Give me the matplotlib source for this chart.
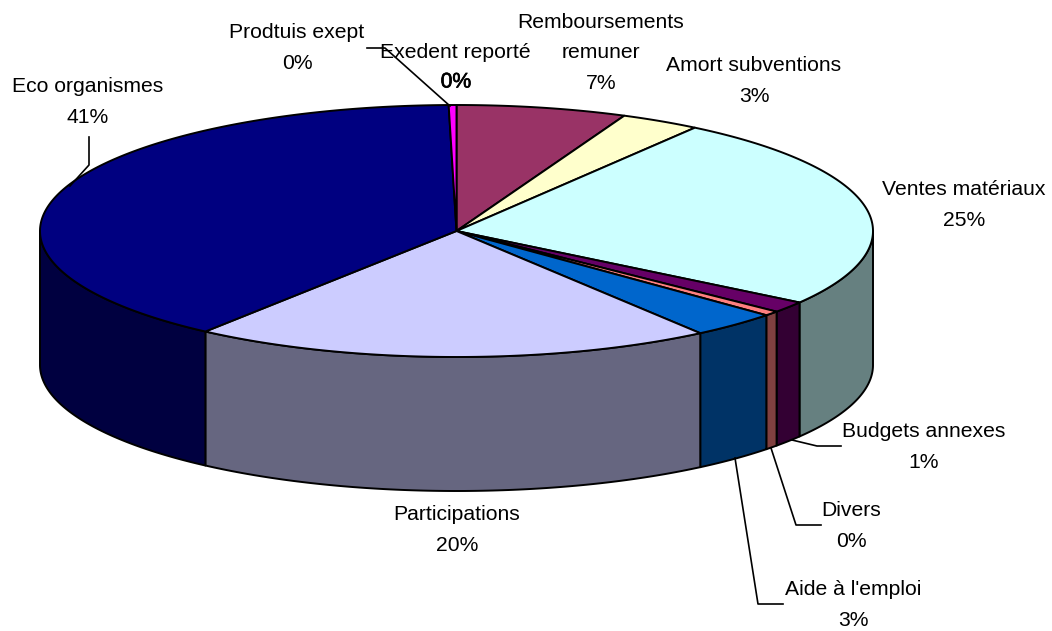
import numpy as np
import matplotlib
matplotlib.use('Agg')
import matplotlib.pyplot as plt
import matplotlib.patheffects as pe

plt.rcParams['font.family'] = ['Liberation Sans', 'DejaVu Sans']

# slices clockwise from 12 o'clock
names = ['Remboursements\nremuner', 'Amort subventions', 'Ventes matériaux', 'Budgets annexes', 'Divers',
         "Aide à l'emploi", 'Participations', 'Eco organismes', 'Prodtuis exept', 'Exedent reporté']
percent_labels = [7, 3, 25, 1, 0, 3, 20, 41, 0, 0]
# share of the drawn ellipse
shares = [6.6, 3.1, 24.9, 1.45, 0.6, 3.4, 20.25, 39.4, 0.3, 0.0]
top_colors = ['#993366', '#FFFFCC', '#CCFFFF', '#660066', '#FF8080',
              '#0066CC', '#CCCCFF', '#000080', '#FF00FF', '#FF00FF']
side_colors = ['#4D1A33', '#808066', '#668080', '#330033', '#804040',
               '#003366', '#666680', '#000040', '#800080', '#800080']

# label centres, pixels
label_x = [601, 754, 964, 924, 851, 853, 457, 88, 297, 455]
label_y = [53, 81, 205, 447, 526, 605, 530, 102, 48, 67]

cx, cy, rx, ry, depth = 456.5, 231, 416.5, 126, 134


def ellipse_pts(t):
    return cx + rx * np.sin(np.radians(t)), cy - ry * np.cos(np.radians(t))


fig = plt.figure(figsize=(10.52, 6.31), dpi=100)
ax = fig.add_axes([0, 0, 1, 1])
ax.set_xlim(0, 1052)
ax.set_ylim(631, 0)
ax.axis('off')

edges = np.concatenate([[0], np.cumsum(shares)]) / sum(shares) * 360

# side wall, only the front half of the disc shows
for i in range(len(shares)):
    a, b = max(edges[i], 90), min(edges[i + 1], 270)
    if b <= a:
        continue
    t = np.linspace(a, b, 100)
    x, y = ellipse_pts(t)
    ax.fill(np.r_[x, x[::-1]], np.r_[y, y[::-1] + depth], facecolor=side_colors[i],
            edgecolor='black', linewidth=1.4, joinstyle='round')

# top face
for i in range(len(shares)):
    if shares[i] == 0:
        continue
    t = np.linspace(edges[i], edges[i + 1], 200)
    x, y = ellipse_pts(t)
    ax.fill(np.r_[cx, x], np.r_[cy, y], facecolor=top_colors[i],
            edgecolor='black', linewidth=1.4, joinstyle='round')

# leader lines
leaders = [
    ([89, 89, 70], [137, 165, 186]),
    ([367, 385, 450], [48, 48, 106]),
    ([792, 817, 841], [440, 446, 446]),
    ([771, 796, 821], [448, 525, 525]),
    ([735, 758, 783], [458, 604, 604]),
]
for lx, ly in leaders:
    ax.plot(lx, ly, color='black', linewidth=1.2)

for i in range(len(names) - 1):
    ax.text(label_x[i], label_y[i], f'{names[i]}\n{percent_labels[i]}%', ha='center', va='center',
            fontsize=15.2, color='black', linespacing=1.75)

# Excel drew this 0% twice, it comes out heavier
ax.text(label_x[-1], 52, names[-1], ha='center', va='center', fontsize=15.2, color='black')
ax.text(456, 82, f'{percent_labels[-1]}%', ha='center', va='center', fontsize=15.2, color='black',
        path_effects=[pe.withStroke(linewidth=0.5, foreground='black')])

fig.savefig('out.png', dpi=100)
